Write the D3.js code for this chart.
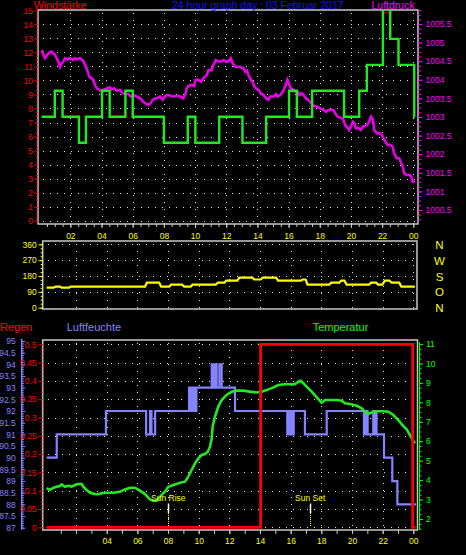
<!DOCTYPE html>
<html><head><meta charset="utf-8">
<script src="https://cdn.jsdelivr.net/npm/d3@7"></script>
<style>
html,body{margin:0;padding:0;background:#000;}
svg{display:block;}
</style>
</head><body>
<svg id="chart" width="466" height="555"></svg>
<script>
// ---------------- DATA ----------------
const titleText = "24 hour graph day : 03 Februar 2017";
const hourTicks = [2,4,6,8,10,12,14,16,18,20,22,24];
const hourLabels = ["02","04","06","08","10","12","14","16","18","20","22","00"];
const bottomHourTicks = [4,6,8,10,12,14,16,18,20,22,24];
const bottomHourLabels = ["04","06","08","10","12","14","16","18","20","22","00"];
const speedTicks = [0,1,2,3,4,5,6,7,8,9,10,11,12,13,14,15];
const pressTicks = [1000.5,1001,1001.5,1002,1002.5,1003,1003.5,1004,1004.5,1005,1005.5];
const dirTicks = [0,90,180,270,360];
const compassLabels = ["N","O","S","W","N"];
const humTicks = [87,87.5,88,88.5,89,89.5,90,90.5,91,91.5,92,92.5,93,93.5,94,94.5,95];
const rainTicks = [0,0.05,0.1,0.15,0.2,0.25,0.3,0.35,0.4,0.45,0.5];
const tempTicks = [2,3,4,5,6,7,8,9,10,11];

const windSpeedHours = [0.16,1.0,1.5,2.55,3.0,4.03,4.52,5.53,6.0,8.0,9.53,10.02,11.55,13.04,14.56,16.03,16.53,17.51,19.56,20.53,21.02,22.05,22.52,23.05,24.06,24.1];
const windSpeedValues = [7.41,9.26,7.41,5.56,7.41,9.26,7.41,9.26,7.41,5.56,7.41,5.56,7.41,5.56,7.41,9.26,7.41,9.26,7.41,9.26,11.11,16.67,12.96,11.11,7.41,7.41];
const windGustValues  = [7.41,9.26,7.41,5.56,7.41,9.26,7.41,9.26,7.41,5.56,7.41,5.56,7.41,5.56,7.41,9.26,7.41,9.26,7.41,9.26,11.11,14.82,12.96,11.11,7.41,7.41];

const pressureHours = [0.16,0.27,0.37,0.52,0.65,0.80,0.91,1.01,1.12,1.23,1.34,1.44,1.55,1.66,1.76,1.98,2.19,2.30,2.40,2.62,2.79,2.90,3.00,3.11,3.22,3.37,3.47,3.58,3.69,3.86,4.01,4.12,4.33,4.54,4.65,4.80,4.97,5.19,5.36,5.51,5.72,5.87,6.04,6.26,6.47,6.58,6.68,6.85,7.00,7.15,7.28,7.43,7.65,7.75,7.92,8.07,8.22,8.40,8.61,8.82,9.04,9.25,9.40,9.46,9.57,9.79,9.94,10.04,10.21,10.39,10.53,10.75,10.86,11.07,11.18,11.33,11.50,11.71,11.82,11.97,12.14,12.29,12.42,12.57,12.78,12.88,13.10,13.21,13.32,13.42,13.53,13.68,13.79,13.92,14.07,14.21,14.39,14.56,14.71,14.81,15.03,15.20,15.28,15.46,15.63,15.78,15.93,16.05,16.14,16.31,16.42,16.59,16.70,16.85,16.95,17.12,17.27,17.45,17.60,17.81,18.02,18.24,18.41,18.56,18.77,18.88,18.99,19.14,19.31,19.48,19.63,19.73,19.88,19.99,20.12,20.23,20.31,20.48,20.63,20.76,20.91,21.02,21.17,21.28,21.38,21.45,21.49,21.66,21.83,21.98,22.09,22.20,22.35,22.52,22.67,22.77,22.94,23.09,23.22,23.33,23.41,23.59,23.76,23.86,23.97,24.12];
const pressureValues = [1004.80,1004.67,1004.58,1004.67,1004.73,1004.76,1004.71,1004.67,1004.58,1004.49,1004.35,1004.44,1004.49,1004.58,1004.55,1004.58,1004.53,1004.58,1004.55,1004.58,1004.53,1004.44,1004.35,1004.22,1004.08,1004.04,1004.00,1003.86,1003.77,1003.73,1003.68,1003.73,1003.77,1003.80,1003.74,1003.77,1003.71,1003.73,1003.64,1003.62,1003.62,1003.55,1003.59,1003.55,1003.50,1003.46,1003.41,1003.35,1003.32,1003.37,1003.46,1003.50,1003.52,1003.55,1003.46,1003.55,1003.59,1003.57,1003.55,1003.57,1003.55,1003.50,1003.64,1003.77,1003.83,1003.86,1003.83,1004.00,1004.00,1003.95,1004.04,1004.13,1004.26,1004.26,1004.40,1004.53,1004.49,1004.49,1004.53,1004.49,1004.49,1004.58,1004.44,1004.35,1004.35,1004.35,1004.31,1004.22,1004.25,1004.13,1004.04,1003.95,1003.82,1003.77,1003.73,1003.64,1003.59,1003.50,1003.46,1003.55,1003.55,1003.61,1003.55,1003.59,1003.68,1003.82,1004.00,1003.86,1003.77,1003.73,1003.68,1003.68,1003.59,1003.64,1003.59,1003.50,1003.46,1003.37,1003.30,1003.28,1003.23,1003.19,1003.14,1003.19,1003.19,1003.19,1003.10,1003.01,1002.99,1002.96,1002.78,1002.74,1002.65,1002.74,1002.87,1002.83,1002.70,1002.70,1002.65,1002.74,1002.76,1002.78,1002.87,1003.01,1002.96,1002.83,1002.65,1002.56,1002.57,1002.52,1002.43,1002.34,1002.25,1002.25,1002.20,1002.02,1001.89,1001.89,1001.77,1001.66,1001.49,1001.44,1001.44,1001.40,1001.26,1001.26];

const windDirHours = [0.08,0.55,0.65,0.95,1.05,1.55,1.65,6.5,6.62,7.42,7.55,8.08,8.2,8.92,9.05,9.48,9.6,11.12,11.25,11.68,11.8,12.52,12.65,13.5,13.62,14.05,14.18,15.05,15.18,16.68,16.78,16.98,17.1,18.52,18.65,19.18,19.3,19.5,19.65,21.12,21.25,21.58,21.7,21.98,22.15,22.45,22.58,23.08,23.22,24.1];
const windDirValues = [114,114,120,120,114,114,120,120,142,142,120,120,131,131,120,120,131,131,142,142,154,154,171,171,160,160,171,171,154,154,160,160,131,131,142,142,154,154,131,131,142,142,131,131,154,154,142,142,120,120];

const humHours = [0.08,0.74,3.95,6.57,6.83,6.92,7.16,9.37,9.43,9.49,9.55,9.61,9.67,9.73,9.79,9.85,9.91,10.85,10.97,11.03,11.17,11.35,11.5,12.37,15.78,15.84,15.9,15.96,16.02,16.08,16.14,16.2,16.93,18.35,20.78,20.84,20.9,20.96,21.02,21.06,21.39,21.45,21.5,21.6,22.09,22.63,22.96,24.17];
const humValues = [90,91,92,91,92,91,92,93,92,93,92,93,92,93,92,93,93,94,93,94,93,94,93,92,91,92,91,92,91,92,91,92,91,92,91,92,91,92,91,91,92,91,92,91,90,89,88,88];

const tempHours = [0.08,0.30,0.52,0.74,0.95,1.06,1.28,1.50,1.71,1.93,2.15,2.37,2.47,2.69,2.91,3.24,3.45,3.67,4.0,4.43,4.87,5.19,5.52,5.84,6.17,6.50,6.82,7.04,7.26,7.48,7.80,8.02,8.35,8.56,8.78,9.11,9.32,9.54,9.76,9.98,10.19,10.41,10.59,10.74,10.85,10.91,11.06,11.28,11.50,11.82,12.15,12.48,12.91,13.35,13.78,14.11,14.43,14.87,15.19,15.63,15.96,16.28,16.50,16.65,16.83,17.04,17.37,17.70,18.02,18.24,18.57,19.0,19.33,19.54,19.87,20.30,20.63,20.85,21.07,21.39,21.61,22.04,22.37,22.70,23.02,23.35,23.57,23.78,23.96,24.11];
const tempValues = [3.58,3.49,3.61,3.66,3.70,3.78,3.66,3.71,3.66,3.75,3.80,3.80,3.66,3.49,3.35,3.28,3.27,3.32,3.35,3.35,3.40,3.52,3.61,3.61,3.46,3.28,3.01,2.94,2.94,3.15,3.40,3.66,3.75,3.80,3.87,3.92,4.18,4.52,4.86,5.12,5.29,5.34,5.46,5.72,6.15,6.75,7.26,7.78,8.12,8.38,8.55,8.60,8.60,8.55,8.51,8.55,8.63,8.77,8.89,8.93,8.93,8.93,9.06,9.11,8.98,8.81,8.55,8.26,7.98,8.12,8.12,8.12,8.08,7.95,7.91,7.83,7.69,7.52,7.40,7.52,7.54,7.54,7.52,7.35,7.09,6.78,6.61,6.32,6.06,5.89];

const rainHours = [0.08,14.04,23.96,24.15];
const rainValues = [0,0.5,0,0];

const sunRiseHour = 8.02;
const sunSetHour = 17.27;

// ---------------- DRAWING ----------------
const FONT = '"Liberation Sans", Arial, sans-serif';
const C = {
  red:"#ff0000", blue:"#1414f0", magenta:"#ff00ff", pline:"#e800e8",
  green:"#00ff00", gline:"#22e822", yellow:"#ffff00", hum:"#8484ff",
  frame:"#c8c8c8", grid:"#e6e6e6"
};
const svg = d3.select("#chart");
svg.append("rect").attr("width",466).attr("height",555).attr("fill","#000");

const zip = (a,b) => a.map((v,i)=>[v,b[i]]);
const fmt = d => String(d);

// scales
const xTop = d3.scaleLinear().domain([0,24]).range([39.2,413.3]);
const xBot = d3.scaleLinear().domain([0,24]).range([45.4,413.3]);
const ySpeed = d3.scaleLinear().domain([0,14]).range([220.7,24.3]);
const yPress = d3.scaleLinear().domain([1000.5,1005.5]).range([210,24]);
const yDir = d3.scaleLinear().domain([0,360]).range([307.7,244.3]);
const yRain = d3.scaleLinear().domain([0,0.5]).range([527.3,344.3]);
const yHum = d3.scaleLinear().domain([87,95]).range([527.7,341]);
const yTemp = d3.scaleLinear().domain([2,11]).range([519,344]);

const P1 = {x0:38, x1:418, y0:10, y1:224};
const P2 = {x0:42.7, x1:417, y0:241, y1:309};
const P3 = {x0:42.7, x1:417.5, y0:340, y1:530};

function grid(panel, xs, ys){
  const g = svg.append("g").attr("stroke",C.grid).attr("stroke-width",1)
    .attr("stroke-dasharray","1,6").attr("shape-rendering","crispEdges");
  g.selectAll(".v").data(xs).join("line").attr("class","v")
    .attr("x1",d=>Math.round(d)+0.5).attr("x2",d=>Math.round(d)+0.5)
    .attr("y1",panel.y0+3).attr("y2",panel.y1);
  g.selectAll(".h").data(ys).join("line").attr("class","h")
    .attr("y1",d=>Math.round(d)+0.5).attr("y2",d=>Math.round(d)+0.5)
    .attr("x1",panel.x0+5).attr("x2",panel.x1);
}
function frame(panel){
  svg.append("rect").attr("x",panel.x0).attr("y",panel.y0)
    .attr("width",panel.x1-panel.x0).attr("height",panel.y1-panel.y0)
    .attr("fill","none").attr("stroke",C.frame).attr("stroke-width",1.5);
}
function styleAxis(g, color, size){
  g.attr("font-family",FONT).attr("font-size",size);
  g.select(".domain").remove();
  g.selectAll("line").attr("stroke",color);
  g.selectAll("text").attr("fill",color);
  return g;
}
function txt(x,y,s,color,size,anchor){
  return svg.append("text").attr("x",x).attr("y",y).text(s).attr("fill",color)
    .attr("font-family",FONT).attr("font-size",size).attr("text-anchor",anchor||"start");
}

// clip paths
const defs = svg.append("defs");
[["c1",P1],["c2",P2],["c3",P3]].forEach(([id,p])=>{
  defs.append("clipPath").attr("id",id).append("rect")
    .attr("x",p.x0).attr("y",p.y0).attr("width",p.x1-p.x0).attr("height",p.y1-p.y0);
});
defs.append("clipPath").attr("id","cTopAxis").append("rect").attr("x",0).attr("y",8.5).attr("width",466).attr("height",240);

// ---------- Panel 1 ----------
grid(P1, hourTicks.map(xTop), speedTicks.filter(d=>d<15).map(ySpeed));
frame(P1);

const lineSpeed = d3.line().x(d=>xTop(d[0])).y(d=>ySpeed(d[1])).curve(d3.curveStepAfter);
const linePress = d3.line().x(d=>xTop(d[0])).y(d=>yPress(d[1]));
const g1 = svg.append("g").attr("clip-path","url(#c1)");
g1.append("path").datum(zip(pressureHours,pressureValues)).attr("d",linePress)
  .attr("fill","none").attr("stroke",C.pline).attr("stroke-width",2.6).attr("stroke-linejoin","miter");
g1.append("path").datum(zip(windSpeedHours,windGustValues)).attr("d",lineSpeed)
  .attr("fill","none").attr("stroke","#e00000").attr("stroke-width",1.2);
g1.append("path").datum(zip(windSpeedHours,windSpeedValues)).attr("d",lineSpeed)
  .attr("fill","none").attr("stroke",C.gline).attr("stroke-width",2.4);

// left speed axis
const aL = svg.append("g").attr("clip-path","url(#cTopAxis)");
styleAxis(aL.append("g").attr("transform",`translate(${P1.x0},0)`)
  .call(d3.axisLeft(ySpeed).tickValues(d3.range(0,15.01,0.25)).tickSize(2).tickFormat("")), C.red, 8.5);
styleAxis(aL.append("g").attr("transform",`translate(${P1.x0},0)`)
  .call(d3.axisLeft(ySpeed).tickValues(speedTicks).tickSize(3.5).tickPadding(1.5).tickFormat(fmt)), C.red, 8.5);

// right pressure axis
styleAxis(svg.append("g").attr("transform",`translate(${P1.x1},0)`)
  .call(d3.axisRight(yPress).tickValues(d3.range(1000.25,1005.9,0.125)).tickSize(3).tickFormat("")), C.magenta, 8.5);
styleAxis(svg.append("g").attr("transform",`translate(${P1.x1},0)`)
  .call(d3.axisRight(yPress).tickValues(pressTicks).tickSize(4.5).tickPadding(3).tickFormat(fmt)), C.magenta, 8.5);

// x axis top
styleAxis(svg.append("g").attr("transform",`translate(0,${P1.y1})`)
  .call(d3.axisBottom(xTop).tickValues(d3.range(0.5,24.01,0.5)).tickSize(3).tickFormat("")), C.frame, 8.5);
styleAxis(svg.append("g").attr("transform",`translate(0,${P1.y1})`)
  .call(d3.axisBottom(xTop).tickValues(hourTicks).tickSize(4).tickPadding(4.5)
  .tickFormat((d,i)=>hourLabels[i])), C.frame, 8.5).selectAll("text").attr("fill",C.yellow);

// titles
txt(34,9.3,"Windstärke",C.red,10.5);
txt(172,9.3,titleText,C.blue,10.5);
txt(371.5,9.3,"Luftdruck",C.magenta,10.5);

// ---------- Panel 2 ----------
grid(P2, hourTicks.map(xBot), dirTicks.filter(d=>d>0).map(yDir));
frame(P2);
const lineDir = d3.line().x(d=>xBot(d[0])).y(d=>yDir(d[1]));
svg.append("g").attr("clip-path","url(#c2)").append("path")
  .datum(zip(windDirHours,windDirValues)).attr("d",lineDir)
  .attr("fill","none").attr("stroke",C.yellow).attr("stroke-width",2.2);
styleAxis(svg.append("g").attr("transform",`translate(${P2.x0},0)`)
  .call(d3.axisLeft(yDir).tickValues(d3.range(0,361,22.5)).tickSize(2).tickFormat("")), C.yellow, 8.5);
styleAxis(svg.append("g").attr("transform",`translate(${P2.x0},0)`)
  .call(d3.axisLeft(yDir).tickValues(dirTicks).tickSize(4).tickPadding(2).tickFormat(fmt)), C.yellow, 8.5);
// compass letters
svg.append("g").selectAll("text").data(dirTicks).join("text")
  .attr("x",439.5).attr("y",d=>yDir(d)+4.5).attr("text-anchor","middle")
  .attr("fill",C.yellow).attr("font-family",FONT).attr("font-size",11.5)
  .text((d,i)=>compassLabels[i]);

// ---------- Panel 3 ----------
txt(0,330.7,"Regen",C.red,11);
txt(66.7,330.7,"Luftfeuchte",C.hum,11);
txt(312.7,330.7,"Temperatur",C.green,11);

grid(P3, hourTicks.map(xBot), rainTicks.map(yRain));
frame(P3);

const g3 = svg.append("g").attr("clip-path","url(#c3)");
// sun markers
[[sunRiseHour,"Sun Rise"],[sunSetHour,"Sun Set"]].forEach(([h,label])=>{
  const x = Math.round(xBot(h))+0.5;
  g3.append("line").attr("x1",x).attr("x2",x).attr("y1",503.5).attr("y2",513)
    .attr("stroke","#fff").attr("stroke-width",1.5);
  g3.append("line").attr("x1",x).attr("x2",x).attr("y1",513).attr("y2",527)
    .attr("stroke",C.yellow).attr("stroke-width",1).attr("stroke-dasharray","1,1");
  txt(xBot(h),500.7,label,C.yellow,8.5,"middle");
});
const lineHum = d3.line().x(d=>xBot(d[0])).y(d=>yHum(d[1])).curve(d3.curveStepAfter);
g3.append("path").datum(zip(humHours,humValues)).attr("d",lineHum)
  .attr("fill","none").attr("stroke",C.hum).attr("stroke-width",2.2);
const lineTemp = d3.line().x(d=>xBot(d[0])).y(d=>yTemp(d[1]));
g3.append("path").datum(zip(tempHours,tempValues)).attr("d",lineTemp)
  .attr("fill","none").attr("stroke",C.gline).attr("stroke-width",2.6);
const lineRain = d3.line().x(d=>xBot(d[0])).y(d=>yRain(d[1])).curve(d3.curveStepAfter);
svg.append("path").datum(zip(rainHours,rainValues)).attr("d",lineRain)
  .attr("fill","none").attr("stroke",C.red).attr("stroke-width",2.8);

// humidity axis (blue, far left)
const hAx = svg.append("g").attr("transform","translate(21.7,0)");
hAx.append("line").attr("x1",0).attr("x2",0).attr("y1",yHum(95)-2).attr("y2",yHum(87)+2)
  .attr("stroke",C.hum).attr("stroke-width",1.5);
styleAxis(hAx.append("g").call(d3.axisRight(yHum).tickValues(d3.range(87,95.01,0.1)).tickSize(2.2).tickFormat("")), C.hum, 8.5);
styleAxis(hAx.append("g").call(d3.axisRight(yHum).tickValues(humTicks).tickSize(3.5).tickFormat("")), C.hum, 8.5);
styleAxis(hAx.append("g").call(d3.axisLeft(yHum).tickValues(humTicks).tickSize(0).tickPadding(6).tickFormat(fmt)), C.hum, 8.5);

// rain axis
styleAxis(svg.append("g").attr("transform",`translate(${P3.x0},0)`)
  .call(d3.axisLeft(yRain).tickValues(d3.range(0,0.501,0.01)).tickSize(1.8).tickFormat("")), C.red, 8.5);
styleAxis(svg.append("g").attr("transform",`translate(${P3.x0},0)`)
  .call(d3.axisLeft(yRain).tickValues(rainTicks).tickSize(4).tickPadding(2).tickFormat(fmt)), C.red, 8.5);

// temperature axis (right)
const tAx = svg.append("g").attr("transform","translate(419.5,0)");
tAx.append("line").attr("x1",0).attr("x2",0).attr("y1",yTemp(11)-2).attr("y2",P3.y1)
  .attr("stroke",C.green).attr("stroke-width",1);
styleAxis(tAx.append("g").call(d3.axisRight(yTemp).tickValues(d3.range(1.5,11.01,0.25)).tickSize(2).tickFormat("")), C.green, 8.5);
styleAxis(tAx.append("g").call(d3.axisRight(yTemp).tickValues(tempTicks).tickSize(3.5).tickPadding(3).tickFormat(fmt)), C.green, 8.5);

// x axis bottom
styleAxis(svg.append("g").attr("transform",`translate(0,${P3.y1})`)
  .call(d3.axisBottom(xBot).tickValues(d3.range(1,24.01,1)).tickSize(4).tickFormat("")), C.frame, 8.5);
styleAxis(svg.append("g").attr("transform",`translate(0,${P3.y1})`)
  .call(d3.axisBottom(xBot).tickValues(bottomHourTicks).tickSize(4).tickPadding(4)
  .tickFormat((d,i)=>bottomHourLabels[i])), C.frame, 8.5).selectAll("text").attr("fill",C.yellow);
</script>
</body></html>
